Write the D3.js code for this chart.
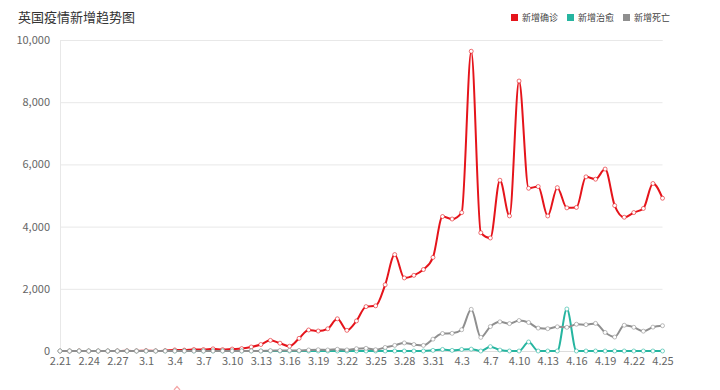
<!DOCTYPE html>
<html>
<head>
<meta charset="utf-8">
<script src="https://cdn.jsdelivr.net/npm/d3@7/dist/d3.min.js"></script>
<style>
  body { margin: 0; background: #fff; }
  svg { display: block; font-family: "Noto Sans CJK SC", "Open Sans", sans-serif; }
</style>
</head>
<body>
<svg id="chart" width="720" height="390"></svg>
<script>
var dates = [
  '2.21','2.22','2.23','2.24','2.25','2.26','2.27','2.28','2.29',
  '3.1','3.2','3.3','3.4','3.5','3.6','3.7','3.8','3.9','3.10','3.11','3.12','3.13','3.14','3.15','3.16',
  '3.17','3.18','3.19','3.20','3.21','3.22','3.23','3.24','3.25','3.26','3.27','3.28','3.29','3.30','3.31',
  '4.1','4.2','4.3','4.5','4.6','4.7','4.8','4.9','4.10','4.11','4.12','4.13','4.14','4.15','4.16',
  '4.17','4.18','4.19','4.20','4.21','4.22','4.23','4.24','4.25'
];

// 新增确诊
var confirmed = [
  0,0,4,0,0,0,2,5,3,
  12,4,11,34,29,48,45,69,43,62,77,130,208,342,251,152,407,676,643,714,1035,665,967,1427,1452,2129,3100,2350,2433,2619,3009,
  4324,4244,4450,9638,3802,3634,5491,4344,8681,5233,5288,4342,5252,4603,4617,5599,5525,5850,4676,4301,4451,4583,5386,4913
];

// 新增治愈
var recovered = [
  0,0,0,0,0,0,0,0,0,
  0,0,0,0,0,0,0,0,0,0,0,0,0,0,0,0,0,0,0,0,0,0,0,0,0,0,0,0,0,0,20,
  50,20,50,60,0,140,30,0,0,290,0,0,0,1350,0,0,0,0,0,0,0,0,0,0
];

// 新增死亡
var deaths = [
  0,0,0,0,0,0,0,0,0,
  0,0,0,0,1,1,0,1,2,1,2,2,1,10,14,20,16,33,40,33,56,35,74,87,41,115,181,260,209,180,381,
  563,569,684,1340,439,786,938,881,980,917,737,717,778,761,861,847,888,596,449,828,763,638,768,813
];

var seriesNames = ['新增确诊', '新增治愈', '新增死亡'];
var seriesColors = ['#e5141b', '#26b5a0', '#8f8f8f'];
var yTicks = [0, 2000, 4000, 6000, 8000, 10000];

var svg = d3.select('#chart');
var plotLeft = 60, plotRight = 662.5, plotTop = 40, plotBottom = 351;

var x = d3.scalePoint().domain(dates).range([plotLeft, plotRight]);
var y = d3.scaleLinear().domain([0, 10000]).range([plotBottom, plotTop]);

// title
svg.append('text')
  .attr('x', 18).attr('y', 22)
  .attr('font-size', 13).attr('fill', '#333')
  .text('英国疫情新增趋势图');

// legend
var legend = svg.append('g').selectAll('g')
  .data(seriesNames)
  .enter().append('g')
  .attr('transform', function(d, i) { return 'translate(' + (511 + i * 56) + ',0)'; });
legend.append('rect')
  .attr('x', 0).attr('y', 14).attr('width', 7).attr('height', 7)
  .attr('fill', function(d, i) { return seriesColors[i]; });
legend.append('text')
  .attr('x', 11).attr('y', 21)
  .attr('font-size', 9).attr('fill', '#444')
  .text(function(d) { return d; });

// grid + y labels
var yAxis = d3.axisLeft(y).tickValues(yTicks).tickSize(-(plotRight - plotLeft)).tickFormat(d3.format(','));
var gy = svg.append('g').attr('transform', 'translate(' + plotLeft + ',0)').call(yAxis);
gy.select('.domain').attr('stroke', '#e8e8e8');
gy.selectAll('.tick line').attr('stroke', '#e8e8e8');
gy.selectAll('.tick text')
  .attr('x', -10).attr('font-size', 11).attr('fill', '#666')
  .attr('font-family', '"Noto Sans CJK SC", sans-serif');

// x axis
var xAxis = d3.axisBottom(x)
  .tickValues(dates.filter(function(d, i) { return i % 3 === 0; }))
  .tickSize(0).tickPadding(6);
var gx = svg.append('g').attr('transform', 'translate(0,' + plotBottom + ')').call(xAxis);
gx.select('.domain').attr('stroke', '#ddd');
gx.selectAll('.tick text')
  .attr('font-size', 11).attr('fill', '#666')
  .attr('font-family', '"Noto Sans CJK SC", sans-serif');

// lines
var allSeries = [confirmed, recovered, deaths];
var line = d3.line()
  .x(function(d, i) { return x(dates[i]); })
  .y(function(d) { return y(d); })
  .curve(d3.curveMonotoneX);

allSeries.forEach(function(vals, s) {
  var g = svg.append('g');
  g.append('path')
    .datum(vals)
    .attr('d', line)
    .attr('fill', 'none')
    .attr('stroke', seriesColors[s])
    .attr('stroke-width', 2);
  g.selectAll('circle')
    .data(vals)
    .enter().append('circle')
    .attr('cx', function(d, i) { return x(dates[i]); })
    .attr('cy', function(d) { return y(d); })
    .attr('r', 2)
    .attr('fill', '#fff')
    .attr('stroke', seriesColors[s])
    .attr('stroke-opacity', 0.6)
    .attr('stroke-width', 1);
});

// small marker cut off at the bottom edge
svg.append('path')
  .attr('d', 'M174,390 L177,386.5 L180,390')
  .attr('fill', 'none')
  .attr('stroke', '#f4a6a6')
  .attr('stroke-width', 1.2);
</script>
</body>
</html>
